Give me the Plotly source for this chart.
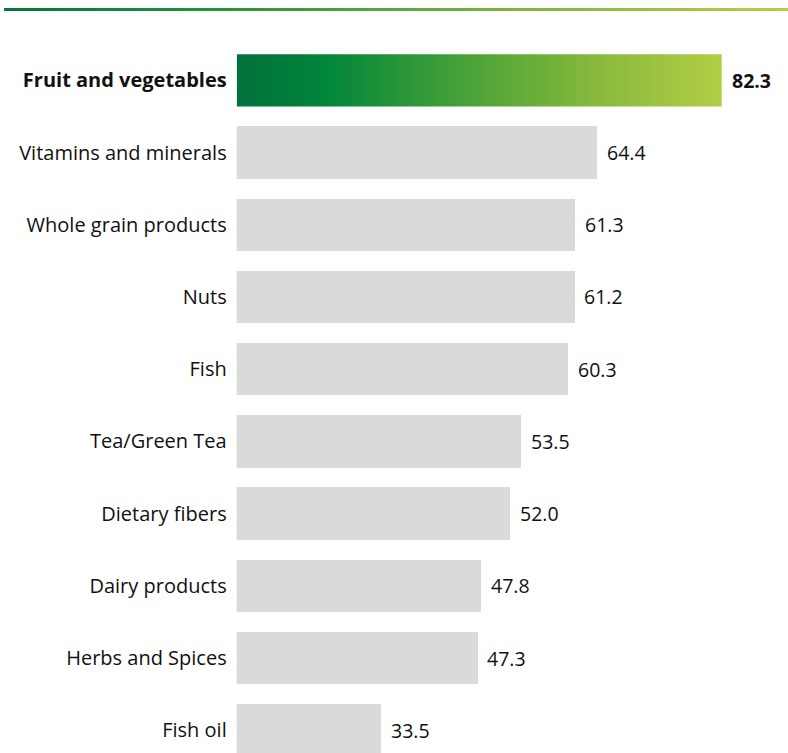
import plotly.graph_objects as go

categories = ["Fruit and vegetables", "Vitamins and minerals", "Whole grain products", "Nuts",
              "Fish", "Tea/Green Tea", "Dietary fibers", "Dairy products", "Herbs and Spices", "Fish oil"]
values = [82.3, 64.4, 61.3, 61.2, 60.3, 53.5, 52.0, 47.8, 47.3, 33.5]
value_labels = ["82.3", "64.4", "61.3", "61.2", "60.3", "53.5", "52.0", "47.8", "47.3", "33.5"]
highlight_index = 0

W, H = 788, 753
X_MIN, X_MAX = 12.83, 91.79
Y_TOP, Y_BOTTOM = -1.112, 9.314
BAR_WIDTH = 0.725
FONT = "Open Sans"
FS = 20

positions = list(range(len(categories)))
ticktext = [f"<b>{c}</b>" if i == highlight_index else c for i, c in enumerate(categories)]

gray_x = [0 if i == highlight_index else v for i, v in enumerate(values)]

fig = go.Figure()

# gray bars
fig.add_trace(go.Bar(
    x=gray_x, y=positions, orientation="h", width=BAR_WIDTH,
    marker=dict(color="#d9dada", line=dict(width=0)),
    hoverinfo="skip", showlegend=False,
))

# highlighted bar with gradient
hv = values[highlight_index]
hp = positions[highlight_index]
half = BAR_WIDTH / 2
fig.add_trace(go.Scatter(
    x=[X_MIN, hv, hv, X_MIN, X_MIN],
    y=[hp - half, hp - half, hp + half, hp + half, hp - half],
    mode="lines", fill="toself", line=dict(width=0),
    fillgradient=dict(type="horizontal",
                      colorscale=[[0, "#03703b"], [0.18, "#00853a"], [0.5, "#4fa437"],
                                  [0.75, "#8aba3d"], [1, "#b1cd45"]]),
    hoverinfo="skip", showlegend=False,
))

# top decorative gradient rule
fig.add_trace(go.Scatter(
    x=[4, W, W, 4, 4], y=[8, 8, 11, 11, 8],
    xaxis="x2", yaxis="y2",
    mode="lines", fill="toself", line=dict(width=0),
    fillgradient=dict(type="horizontal",
                      colorscale=[[0, "#00773b"], [0.3, "#2a963a"], [0.65, "#7db43d"], [1, "#b5cf45"]]),
    hoverinfo="skip", showlegend=False,
))

annotations = []
for i, (v, t) in enumerate(zip(values, value_labels)):
    annotations.append(dict(
        x=v, y=positions[i], xref="x", yref="y",
        text=f"<b>{t}</b>" if i == highlight_index else t,
        showarrow=False, xanchor="left", yanchor="middle", xshift=8,
        font=dict(family=FONT, size=FS - 0.5, color="#111111"),
    ))

fig.update_layout(
    width=W, height=H,
    margin=dict(l=0, r=0, t=0, b=0),
    paper_bgcolor="white", plot_bgcolor="rgba(0,0,0,0)",
    bargap=0,
    font=dict(family=FONT, size=FS, color="#111111"),
    xaxis=dict(domain=[236.7 / W, 1], range=[X_MIN, X_MAX], showgrid=False, zeroline=False,
               showticklabels=False, showline=False, fixedrange=True),
    yaxis=dict(range=[Y_BOTTOM, Y_TOP], tickmode="array", tickvals=positions, ticktext=ticktext,
               showgrid=False, zeroline=False, showline=False, ticks="", ticklabelstandoff=9,
               tickfont=dict(family=FONT, size=FS, color="#111111"), fixedrange=True),
    xaxis2=dict(domain=[0, 1], range=[0, W], visible=False, anchor="y2", fixedrange=True),
    yaxis2=dict(domain=[0, 1], range=[H, 0], visible=False, anchor="x2", fixedrange=True),
    annotations=annotations,
)

fig.write_html("out.html", config={"displayModeBar": False},
               post_script="document.body.style.margin='0';document.body.style.overflow='hidden';")
